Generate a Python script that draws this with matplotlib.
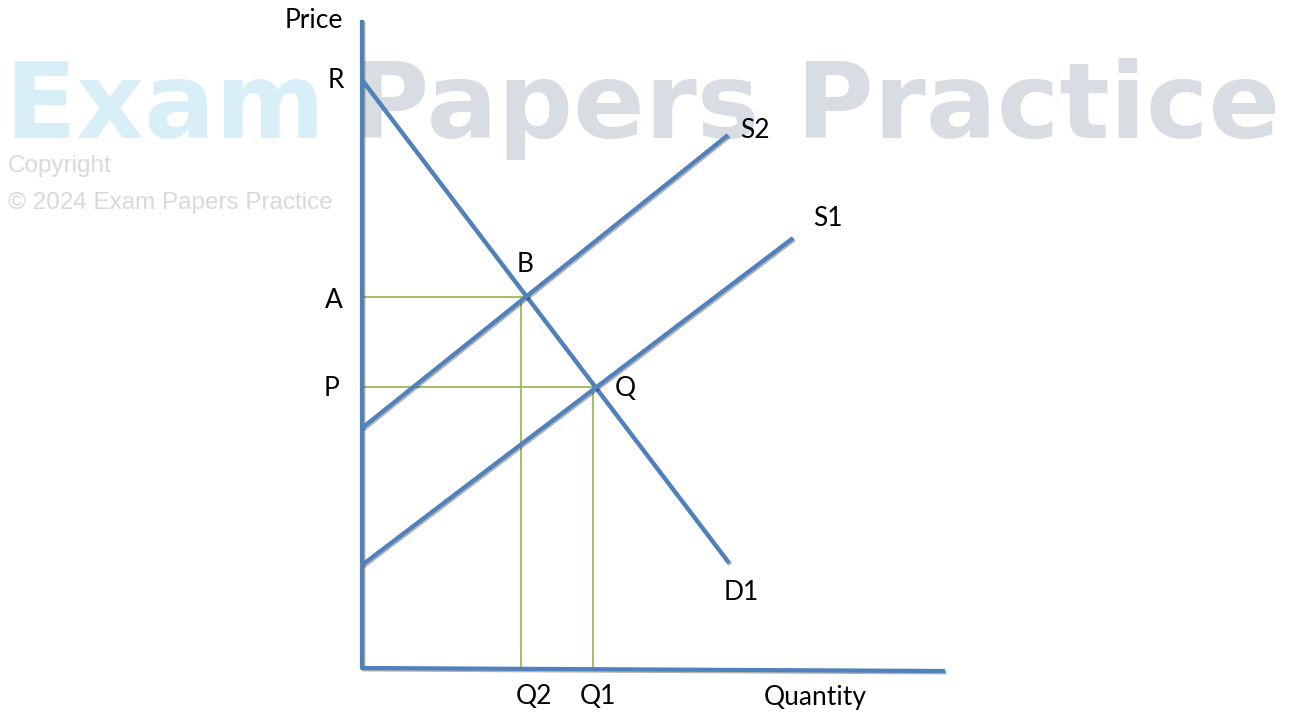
import matplotlib.pyplot as plt
import matplotlib.patheffects as pe

# diagram drawn in pixel space of the original (y grows downwards)
axisX = [362, 362, 945]
axisY = [20, 668, 671]

demandX = [362, 729]
demandY = [80, 563]
supply2X = [362, 728]
supply2Y = [428, 135]
supply1X = [362, 793]
supply1Y = [565, 238]

# equilibrium guides: (quantity, price) in pixels
pointB = (521, 297)
pointQ = (593, 387)

labels = [
    ('Price', 314, 20), ('R', 336, 80), ('A', 334, 300), ('P', 332, 388),
    ('B', 525, 265), ('Q', 625, 388), ('S2', 755, 130), ('S1', 828, 218),
    ('D1', 741, 593), ('Q2', 534, 697), ('Q1', 598, 697), ('Quantity', 815, 697),
]

blue = '#4f81bd'
green = '#9bbb59'

fig = plt.figure(figsize=(12.9, 7.13), dpi=100)
ax = fig.add_axes([0, 0, 1, 1])
ax.set_xlim(0, 1290)
ax.set_ylim(713, 0)
ax.axis('off')

# watermark
ax.text(4, 138, 'Exam', fontsize=76, fontweight='bold', family='DejaVu Sans',
        color='#d9eff7', va='baseline', ha='left', zorder=0)
ax.text(1280, 138, 'Papers Practice', fontsize=76, fontweight='bold', family='DejaVu Sans',
        color='#d7dde2', va='baseline', ha='right', zorder=0)
ax.text(8, 172, 'Copyright', fontsize=17.5, family='Liberation Sans',
        color='#d9d9d9', va='baseline', ha='left', zorder=0)
ax.text(8, 209, '\u00a9 2024 Exam Papers Practice', fontsize=17.5, family='Liberation Sans',
        color='#d9d9d9', va='baseline', ha='left', zorder=0)

shadow = [pe.SimpleLineShadow(offset=(1, -1), alpha=0.3), pe.Normal()]

# guide lines
ax.plot([axisX[0], pointB[0] + 8], [pointB[1], pointB[1]], color=green, lw=1.3, zorder=2)
ax.plot([pointB[0], pointB[0]], [pointB[1], axisY[1]], color=green, lw=1.3, zorder=2)
ax.plot([axisX[0], pointQ[0]], [pointQ[1], pointQ[1]], color=green, lw=1.3, zorder=2)
ax.plot([pointQ[0], pointQ[0]], [pointQ[1], axisY[1]], color=green, lw=1.3, zorder=2)

for xs, ys in [(axisX, axisY), (demandX, demandY), (supply2X, supply2Y), (supply1X, supply1Y)]:
    ax.plot(xs, ys, color=blue, lw=3, solid_capstyle='butt', zorder=3,
            path_effects=shadow)

for txt, x, y in labels:
    ax.text(x, y, txt, fontsize=19, family='Lato', color='black',
            ha='center', va='center', zorder=4)

fig.savefig('out.png', dpi=100)
